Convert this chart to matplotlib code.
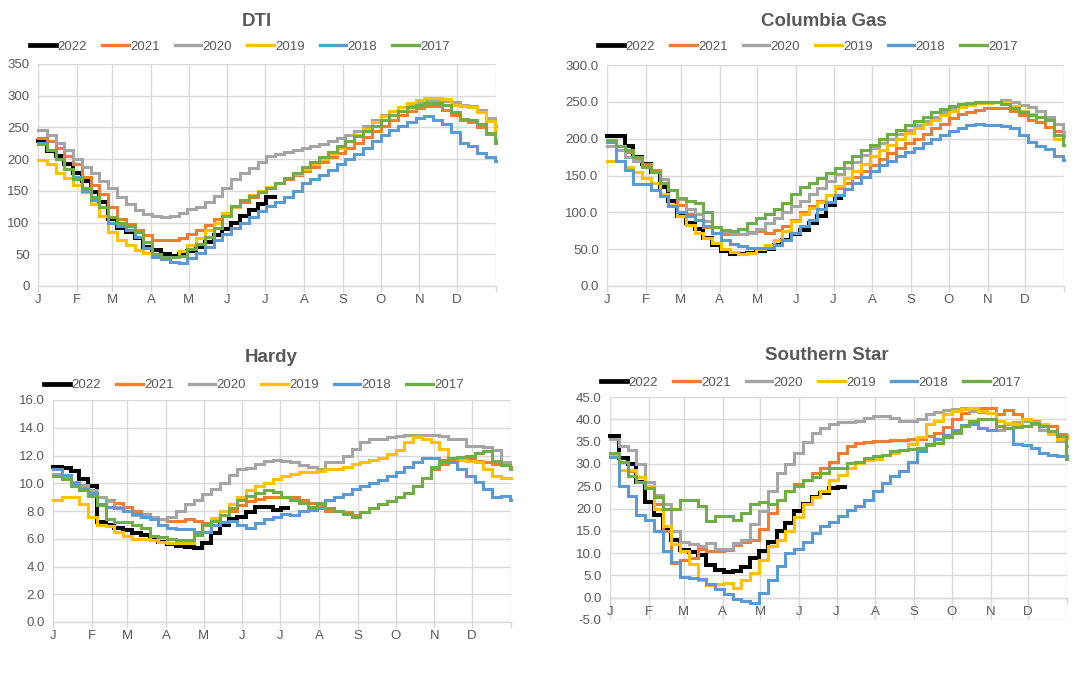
import numpy as np
import matplotlib
matplotlib.use('Agg')
import matplotlib.pyplot as plt
from matplotlib.lines import Line2D
from matplotlib.ticker import FormatStrFormatter, MultipleLocator

plt.rcParams['font.family'] = ['Liberation Sans', 'DejaVu Sans']

years = ['2022', '2021', '2020', '2019', '2018', '2017']
colors = ['#000000', '#ED7D31', '#A5A5A5', '#FFC000', '#5B9BD5', '#70AD47']
month_labels = ['J', 'F', 'M', 'A', 'M', 'J', 'J', 'A', 'S', 'O', 'N', 'D']
month_days = [0, 31, 59, 90, 120, 151, 181, 212, 243, 273, 304, 334]
year_end = 365
week_step = 7

# ---------------- DTI (weekly values from Jan 1) ----------------
dti_2022 = [228, 213, 205, 193, 178, 165, 148, 133, 105, 92, 85, 75, 62, 57, 50, 47, 50, 55,
            62, 70, 80, 90, 100, 110, 120, 130, 140]
dti_2022_end = 189
dti_2021 = [234, 228, 218, 205, 192, 172, 160, 145, 125, 105, 98, 88, 80, 73, 72, 72, 76, 82,
            88, 96, 105, 115, 125, 132, 140, 148, 155, 162, 168, 175, 182, 188, 196, 203, 210,
            218, 226, 235, 244, 253, 262, 270, 276, 281, 284, 284, 278, 270, 262, 258, 250, 240, 230]
dti_2020 = [246, 238, 225, 215, 200, 188, 178, 165, 155, 140, 130, 120, 114, 110, 108, 110, 115,
            122, 125, 132, 142, 155, 168, 178, 186, 195, 205, 208, 211, 214, 217, 220, 224, 228,
            234, 238, 245, 252, 262, 270, 276, 282, 286, 290, 293, 294, 292, 290, 286, 284, 278, 265, 252]
dti_2019 = [198, 192, 178, 170, 160, 148, 130, 110, 85, 72, 64, 57, 52, 48, 45, 46, 55, 65, 75,
            88, 100, 115, 125, 135, 143, 150, 156, 163, 170, 177, 185, 192, 200, 208, 218, 228,
            238, 248, 258, 268, 276, 282, 288, 293, 296, 297, 295, 285, 283, 282, 275, 260, 246]
dti_2018 = [226, 215, 200, 185, 172, 150, 135, 125, 100, 95, 88, 78, 60, 46, 43, 38, 36, 44, 52,
            62, 72, 82, 92, 100, 108, 118, 126, 132, 140, 150, 162, 168, 175, 183, 192, 200, 208,
            218, 228, 238, 246, 252, 258, 265, 268, 262, 256, 243, 225, 220, 209, 204, 197]
dti_2017 = [224, 215, 200, 185, 168, 155, 140, 125, 108, 100, 95, 85, 70, 50, 46, 45, 48, 58, 66,
            78, 92, 110, 126, 135, 142, 148, 154, 162, 170, 178, 188, 196, 204, 212, 220, 228, 236,
            244, 252, 262, 270, 276, 282, 286, 288, 288, 285, 275, 264, 262, 255, 242, 226]

# ---------------- Columbia Gas ----------------
cg_2022 = [203, 203, 190, 175, 165, 155, 135, 115, 95, 85, 78, 65, 55, 48, 44, 43, 45, 47, 50,
           55, 62, 70, 76, 85, 95, 110, 120]
cg_2022_end = 187
cg_2021 = [197, 190, 182, 172, 165, 158, 145, 130, 110, 98, 90, 80, 72, 70, 70, 71, 73, 74, 72,
           76, 82, 90, 100, 108, 116, 124, 133, 140, 148, 156, 164, 172, 180, 187, 194, 200, 207,
           214, 220, 228, 233, 236, 239, 241, 242, 241, 238, 232, 225, 222, 216, 210, 203]
cg_2020 = [190, 185, 175, 170, 162, 155, 145, 130, 118, 105, 98, 88, 80, 74, 72, 70, 72, 78, 85,
           92, 100, 108, 116, 125, 133, 142, 152, 160, 168, 178, 188, 194, 200, 206, 212, 218, 224,
           230, 236, 240, 244, 247, 248, 248, 250, 252, 250, 246, 243, 238, 230, 220, 209]
cg_2019 = [170, 170, 162, 155, 147, 140, 125, 110, 95, 83, 72, 65, 58, 50, 46, 43, 45, 50, 55,
           62, 75, 88, 98, 106, 114, 124, 136, 146, 156, 166, 176, 184, 192, 200, 208, 214, 220,
           226, 232, 238, 243, 246, 248, 249, 250, 250, 245, 238, 233, 230, 225, 200, 192]
cg_2018 = [195, 170, 158, 138, 138, 130, 122, 108, 100, 95, 90, 82, 72, 62, 57, 54, 52, 51, 52,
           56, 63, 72, 82, 90, 104, 114, 124, 132, 140, 148, 156, 164, 170, 176, 182, 188, 194,
           200, 205, 210, 214, 218, 220, 219, 218, 217, 215, 205, 196, 190, 186, 176, 171]
cg_2017 = [198, 190, 185, 175, 162, 155, 140, 130, 120, 115, 112, 100, 80, 76, 74, 78, 85, 92,
           98, 104, 112, 125, 134, 140, 146, 153, 160, 168, 176, 184, 192, 200, 206, 212, 218,
           224, 230, 236, 240, 244, 247, 249, 250, 250, 250, 247, 242, 236, 232, 230, 225, 205, 192]

# ---------------- Hardy ----------------
hardy_2022 = [11.2, 11.1, 10.9, 10.3, 9.8, 7.2, 7.0, 6.8, 6.6, 6.4, 6.3, 6.0, 5.8, 5.6, 5.5, 5.4,
              5.3, 5.7, 6.4, 7.0, 7.4, 7.6, 7.9, 8.3, 8.3, 8.1, 8.2]
hardy_2022_end = 187
hardy_2021 = [10.5, 10.3, 10.0, 9.7, 9.3, 9.0, 8.8, 8.6, 8.3, 8.0, 7.8, 7.6, 7.4, 7.3, 7.3, 7.4,
              7.3, 7.1, 7.3, 7.7, 8.0, 8.4, 8.7, 8.9, 9.0, 9.0, 9.0, 9.0, 8.8, 8.6, 8.4, 8.0, 8.0,
              7.9, 7.7, 7.9, 8.2, 8.5, 8.7, 9.0, 9.3, 9.8, 10.4, 11.0, 11.4, 11.6, 11.8, 11.8,
              11.6, 11.5, 11.4, 11.3, 11.2]
hardy_2020 = [10.7, 10.4, 10.1, 9.9, 9.5, 9.0, 8.7, 8.3, 8.0, 7.7, 7.7, 7.6, 7.4, 7.6, 8.0, 8.5,
              8.8, 9.2, 9.6, 10.0, 10.6, 11.0, 11.1, 11.4, 11.6, 11.7, 11.6, 11.5, 11.3, 11.2,
              11.0, 11.5, 11.5, 12.0, 12.5, 13.0, 13.2, 13.2, 13.3, 13.4, 13.5, 13.5, 13.5, 13.5,
              13.4, 13.2, 13.2, 12.7, 12.7, 12.6, 12.4, 11.5, 11.0]
hardy_2019 = [8.8, 9.0, 9.0, 8.5, 7.6, 7.0, 6.9, 6.5, 6.2, 6.0, 6.0, 5.9, 5.8, 5.7, 5.7, 5.7,
              6.3, 7.0, 7.5, 8.0, 8.5, 9.0, 9.5, 9.8, 10.0, 10.3, 10.5, 10.7, 10.8, 10.8, 10.9,
              11.0, 11.0, 11.2, 11.4, 11.5, 11.7, 11.8, 12.1, 12.4, 13.0, 13.3, 13.2, 13.0, 12.5,
              11.8, 11.7, 11.6, 11.5, 11.0, 10.5, 10.4, 10.4]
hardy_2018 = [11.0, 10.6, 10.0, 9.6, 9.3, 8.5, 8.3, 8.2, 8.0, 7.8, 7.6, 7.4, 7.0, 6.8, 6.7, 6.7,
              6.5, 6.5, 7.0, 7.2, 7.3, 7.0, 6.8, 7.1, 7.4, 7.6, 7.8, 7.7, 8.0, 8.1, 8.2, 8.8, 9.0,
              9.2, 9.6, 9.8, 10.0, 10.2, 10.5, 10.8, 11.2, 11.5, 11.8, 11.8, 11.7, 11.5, 11.0,
              10.5, 10.1, 9.6, 9.0, 9.1, 8.8]
hardy_2017 = [10.5, 10.3, 9.8, 9.5, 9.1, 8.4, 7.4, 7.2, 7.2, 7.0, 6.8, 6.2, 6.1, 6.0, 5.9, 5.9,
              6.3, 7.0, 7.3, 7.7, 8.2, 8.8, 9.1, 9.3, 9.5, 9.4, 9.0, 8.8, 8.6, 8.3, 8.6, 8.2, 8.0,
              7.8, 7.6, 7.9, 8.2, 8.5, 8.7, 9.0, 9.3, 9.8, 10.4, 11.2, 11.6, 11.8, 11.9, 12.0,
              12.2, 12.3, 11.6, 11.3, 11.0]

# ---------------- Southern Star ----------------
ss_2022 = [36.3, 31.4, 30.0, 26.0, 21.5, 18.5, 15.2, 13.0, 10.8, 10.3, 9.6, 7.3, 6.3, 5.8, 6.0,
           6.8, 8.8, 10.5, 12.6, 14.9, 16.7, 19.5, 21.0, 22.5, 23.5, 24.6, 24.8]
ss_2022_end = 188
ss_2021 = [32.3, 30.5, 28.5, 27.0, 25.0, 21.0, 15.0, 7.8, 8.5, 9.0, 10.9, 10.5, 10.5, 10.6, 11.8,
           12.5, 13.0, 15.5, 19.0, 22.0, 24.0, 25.5, 26.5, 28.0, 29.0, 30.5, 32.5, 34.0, 34.7,
           35.0, 35.1, 35.2, 35.3, 35.3, 35.5, 35.5, 36.2, 37.0, 38.3, 40.0, 41.5, 42.0, 42.5,
           42.5, 41.1, 42.0, 41.1, 39.8, 39.7, 39.0, 38.5, 36.6, 36.2]
ss_2020 = [35.5, 34.0, 33.2, 30.0, 26.0, 23.0, 21.0, 15.0, 12.5, 12.0, 11.7, 12.2, 11.0, 11.0,
           12.2, 13.0, 16.5, 19.5, 24.0, 28.0, 30.0, 32.5, 35.0, 37.0, 38.0, 39.0, 39.3, 39.3,
           39.6, 40.2, 40.7, 40.7, 40.2, 39.6, 39.6, 40.0, 41.1, 41.7, 42.0, 42.2, 42.6, 41.9,
           41.7, 41.5, 37.5, 38.9, 39.5, 39.6, 38.9, 37.7, 37.0, 35.1, 34.0]
ss_2019 = [32.0, 28.7, 28.7, 27.0, 25.0, 20.0, 16.0, 12.0, 10.5, 7.5, 4.0, 2.9, 3.0, 3.2, 2.2,
           4.0, 5.5, 8.5, 11.5, 13.0, 15.0, 18.0, 21.0, 22.5, 24.0, 26.5, 27.6, 29.1, 30.2, 30.8,
           31.2, 32.0, 32.5, 33.2, 34.4, 36.0, 38.9, 39.6, 41.1, 41.9, 42.3, 42.6, 41.9, 41.5,
           39.6, 39.2, 38.9, 40.0, 39.5, 38.9, 36.6, 35.5, 35.9]
ss_2018 = [31.5, 25.0, 22.7, 18.5, 17.5, 15.0, 10.5, 8.0, 4.7, 4.4, 4.2, 3.0, 2.0, 0.8, -0.3,
           -0.8, -1.2, 1.0, 4.0, 7.0, 10.0, 11.0, 12.5, 14.5, 16.0, 17.0, 18.4, 19.7, 20.5, 22.0,
           24.0, 25.8, 27.2, 28.5, 30.5, 32.9, 34.4, 35.5, 36.5, 37.5, 38.7, 39.0, 38.0, 37.6,
           38.5, 38.0, 34.4, 34.2, 33.6, 32.5, 32.0, 31.7, 31.7]
ss_2017 = [32.5, 30.5, 27.3, 26.0, 24.5, 22.5, 20.0, 20.0, 22.0, 22.0, 20.5, 17.1, 18.3, 18.3,
           17.5, 19.0, 21.0, 21.5, 21.0, 22.0, 24.0, 25.0, 26.5, 27.0, 28.0, 29.0, 29.1, 30.2,
           30.5, 31.4, 31.8, 32.1, 32.9, 33.2, 33.4, 33.6, 34.2, 34.7, 36.0, 37.0, 38.5, 39.6,
           40.0, 40.1, 38.5, 38.1, 38.3, 38.5, 39.2, 38.5, 37.4, 36.2, 31.2]

panels = [
    dict(title='DTI', series=[dti_2022, dti_2021, dti_2020, dti_2019, dti_2018, dti_2017],
         end22=dti_2022_end, ylim=(0, 350), step=50, fmt='%d',
         rect=[38, 64, 496, 286], title_xy=(257, 21), leg_xy=(30, 47)),
    dict(title='Columbia Gas', series=[cg_2022, cg_2021, cg_2020, cg_2019, cg_2018, cg_2017],
         end22=cg_2022_end, ylim=(0, 300), step=50, fmt='%.1f',
         rect=[607, 65, 1064, 286], title_xy=(824, 22), leg_xy=(598, 47)),
    dict(title='Hardy', series=[hardy_2022, hardy_2021, hardy_2020, hardy_2019, hardy_2018, hardy_2017],
         end22=hardy_2022_end, ylim=(0, 16), step=2, fmt='%.1f',
         rect=[53, 400, 511, 622], title_xy=(271, 357), leg_xy=(44, 385)),
    dict(title='Southern Star', series=[ss_2022, ss_2021, ss_2020, ss_2019, ss_2018, ss_2017],
         end22=ss_2022_end, ylim=(-5, 45), step=5, fmt='%.1f',
         rect=[610, 397, 1067, 620], title_xy=(827, 355), leg_xy=(601, 383)),
]

W, H = 1080, 675
fig = plt.figure(figsize=(W / 100, H / 100), dpi=100)
grid_c = '#d9d9d9'
text_c = '#595959'

for p in panels:
    l, t, r, b = p['rect']
    ax = fig.add_axes([l / W, 1 - b / H, (r - l) / W, (b - t) / H])
    for i, (vals, col) in enumerate(zip(p['series'], colors)):
        x = [k * week_step for k in range(len(vals))]
        end = p['end22'] if i == 0 else year_end
        x = x + [end]
        y = list(vals) + [vals[-1]]
        lw = 2.9 if i == 0 else 2.2
        ax.step(x, y, where='post', color=col, lw=lw, solid_joinstyle='miter',
                zorder=3 + i, clip_on=False)
    ax.set_xlim(0, year_end)
    ax.set_ylim(*p['ylim'])
    ax.yaxis.set_major_locator(MultipleLocator(p['step']))
    ax.yaxis.set_major_formatter(FormatStrFormatter(p['fmt']))
    ax.set_xticks(month_days + [year_end])
    ax.set_xticklabels(month_labels + [''])
    ax.grid(True, color=grid_c, lw=1.0, zorder=0)
    ax.set_axisbelow(True)
    for s in ['top', 'right', 'left']:
        ax.spines[s].set_visible(False)
    ax.spines['bottom'].set_color(grid_c)
    ax.spines['bottom'].set_linewidth(1.0)
    if p['ylim'][0] < 0:
        ax.spines['bottom'].set_position(('data', 0))
    ax.tick_params(axis='y', length=0, pad=6, labelsize=9.5, labelcolor=text_c)
    ax.tick_params(axis='x', length=4, width=1, color=grid_c, pad=2,
                   labelsize=9.5, labelcolor=text_c)
    fig.text(p['title_xy'][0] / W, 1 - p['title_xy'][1] / H, p['title'],
             ha='center', va='center', fontsize=13.5, fontweight='bold', color=text_c)
    handles = [Line2D([0], [0], color=c, lw=(3.4 if i == 0 else 2.4))
               for i, c in enumerate(colors)]
    fig.legend(handles, years, loc='center left',
               bbox_to_anchor=(p['leg_xy'][0] / W, 1 - p['leg_xy'][1] / H),
               ncol=6, frameon=False, fontsize=9.5, labelcolor=text_c,
               handlelength=2.0, handletextpad=0.1, columnspacing=1.15,
               borderaxespad=0, borderpad=0)

fig.savefig('out.png', dpi=100, facecolor='white')
